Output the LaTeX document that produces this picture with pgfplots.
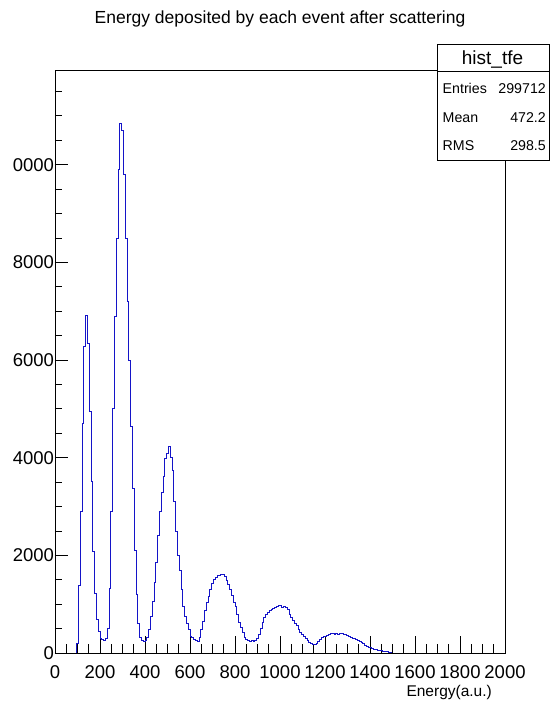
\documentclass[border=0pt]{standalone}
\usepackage{fontspec}
\setmainfont{Liberation Sans}
\usepackage{pgfplots}
\pgfplotsset{compat=1.18}
\definecolor{histblue}{RGB}{20,20,200}
\begin{document}
\begin{tikzpicture}[x=1pt,y=1pt]
\begin{axis}[
  at={(55pt,-653pt)}, anchor=south west,
  width=450pt, height=583pt, scale only axis,
  xmin=0, xmax=2000, ymin=0, ymax=11940,
  axis line style={black, line width=0.8pt},
  xtick={0,200,...,2000},
  minor xtick={0,50,...,2000},
  ytick={0,2000,...,10000},
  yticklabels={0,2000,4000,6000,8000,0000},
  scaled y ticks=false, scaled x ticks=false,
  minor ytick={0,500,...,11500},
  xtick pos=bottom, ytick pos=left,
  tick align=inside,
  xtick style={/pgfplots/major tick length=17pt, /pgfplots/minor tick length=9pt, black, line width=0.8pt},
  ytick style={/pgfplots/major tick length=13pt, /pgfplots/minor tick length=7pt, black, line width=0.8pt},
  /pgf/number format/assume math mode=true,
  /pgf/number format/1000 sep={},
  ticklabel style={font=\fontsize{18.5}{18.5}\selectfont},
  xticklabel style={yshift=-9pt},
  yticklabel style={xshift=2.5pt},
]
\addplot[const plot mark left, histblue, line width=0.75pt] coordinates {
(96,0) (96,200) (104,1380) (112,2900) (120,4700) (128,6280) (136,6920) (144,6350) (152,4950) (160,3510)
(168,2080) (176,1230) (184,680) (192,440) (200,300) (208,273) (216,265) (224,300) (232,500) (240,1330)
(248,2900) (256,5000) (264,6900) (272,8500) (280,9900) (288,10850) (296,10700) (304,9800) (312,8500) (320,7200)
(328,6000) (336,4640) (344,3380) (352,2100) (360,1200) (368,600) (376,330) (384,260) (392,240) (400,260)
(408,330) (416,480) (424,750) (432,1060) (440,1450) (448,1850) (456,2400) (464,2900) (472,3300) (480,3620)
(488,3990) (496,4080) (504,4230) (512,4000) (520,3750) (528,3100) (536,2500) (544,2000) (552,1700) (560,1300)
(568,950) (576,760) (584,600) (592,480) (600,350) (608,310) (616,280) (624,250) (632,240) (640,330)
(648,480) (656,640) (664,880) (672,1030) (680,1150) (688,1300) (696,1430) (704,1500) (712,1540) (720,1590)
(728,1580) (736,1610) (744,1620) (752,1560) (760,1480) (768,1400) (776,1300) (784,1180) (792,1040) (800,950)
(808,800) (816,620) (824,520) (832,420) (840,330) (848,270) (856,255) (864,245) (872,250) (880,240)
(888,255) (896,290) (904,380) (912,500) (920,620) (928,730) (936,800) (944,840) (952,875) (960,890)
(968,910) (976,925) (984,950) (992,985) (1000,975) (1008,930) (1016,960) (1024,930) (1032,890) (1040,790)
(1048,720) (1056,660) (1064,610) (1072,560) (1080,480) (1088,420) (1096,380) (1104,340) (1112,290) (1120,250)
(1128,215) (1136,195) (1144,175) (1152,180) (1160,205) (1168,240) (1176,275) (1184,310) (1192,335) (1200,345)
(1208,355) (1216,385) (1224,395) (1232,400) (1240,385) (1248,395) (1256,390) (1264,405) (1272,395) (1280,390)
(1288,380) (1296,365) (1304,345) (1312,330) (1320,305) (1328,290) (1336,270) (1344,255) (1352,235) (1360,215)
(1368,195) (1376,165) (1384,140) (1392,125) (1400,110) (1408,90) (1416,78) (1424,65) (1432,55) (1440,48)
(1448,44) (1456,40) (1464,35) (1472,28) (1480,22) (1488,18) (1496,0)
};
\end{axis}
\node[anchor=base, font=\fontsize{17.5}{20}\selectfont] at (280,-24) {Energy deposited by each event after scattering};
\draw[black, line width=0.8pt, fill=white] (437,-44) rectangle (549,-160);
\draw[black, line width=0.8pt] (437,-71.5) -- (549,-71.5);
\node[anchor=base, font=\fontsize{19}{19}\selectfont] at (492.5,-65) {hist\_tfe};
\begin{scope}[every node/.style={font=\fontsize{14.2}{14}\selectfont, inner sep=0pt}]
\node[anchor=base west] at (442.5,-93) {Entries};
\node[anchor=base east] at (546,-93) {299712};
\node[anchor=base west] at (442.5,-122.5) {Mean};
\node[anchor=base east] at (546,-122.5) {472.2};
\node[anchor=base west] at (442.5,-150.7) {RMS};
\node[anchor=base east] at (546,-150.7) {298.5};
\end{scope}
\node[anchor=base east, inner sep=0pt, font=\fontsize{15.5}{15.5}\selectfont] at (492,-696) {Energy(a.u.)};
\pgfresetboundingbox
\useasboundingbox (0,-701) rectangle (550,0);
\end{tikzpicture}
\end{document}
